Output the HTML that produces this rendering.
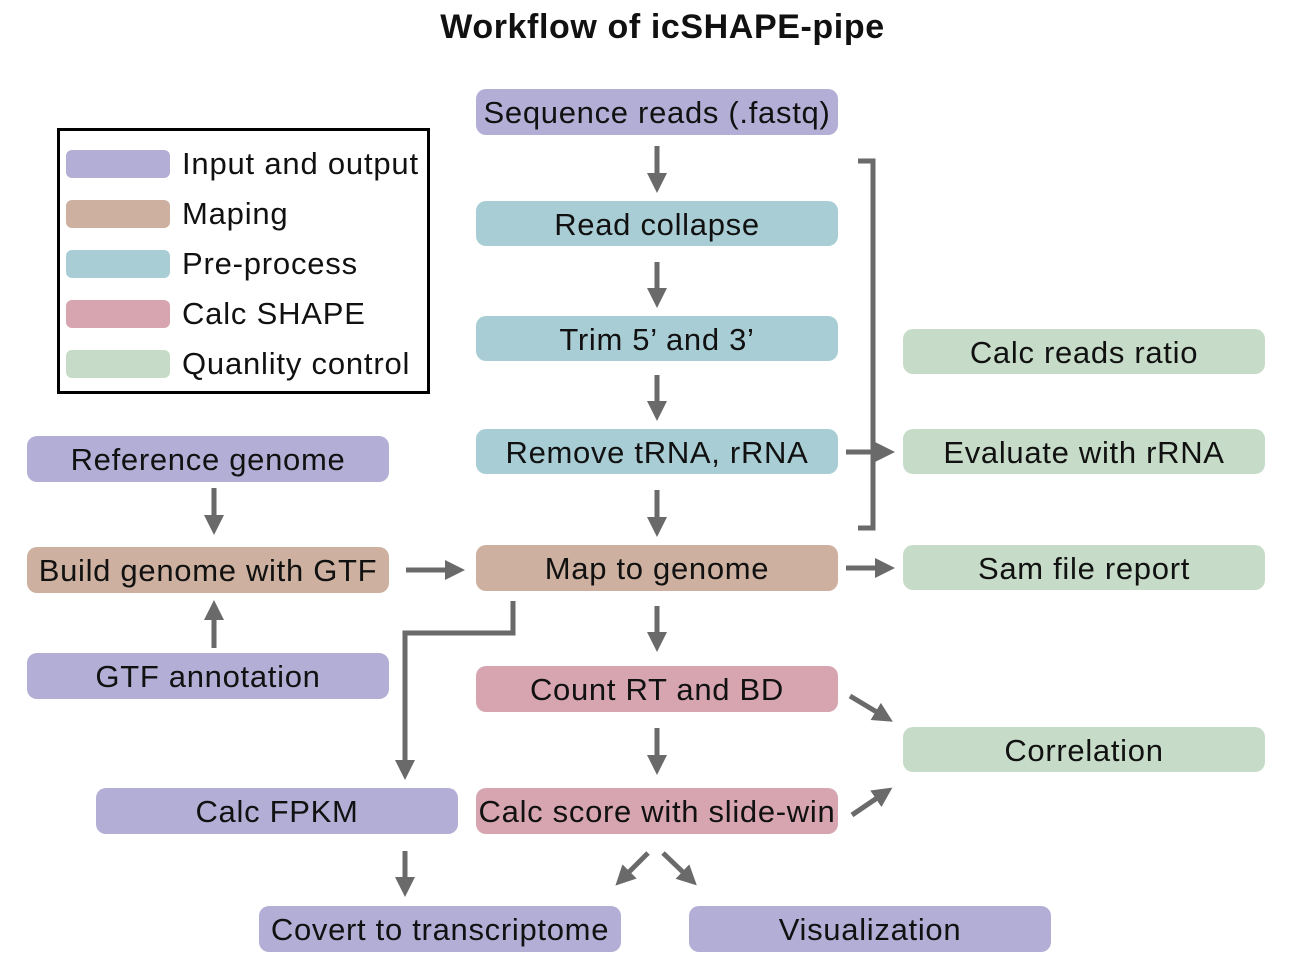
<!DOCTYPE html>
<html><head><meta charset="utf-8"><style>
body{margin:0;width:1313px;height:966px;background:#fff;position:relative;font-family:"Liberation Sans",Arial,sans-serif;overflow:hidden}
.b{position:absolute;border-radius:10px;display:flex;align-items:center;justify-content:center;font-size:31px;letter-spacing:0.7px;color:#111;white-space:nowrap;padding-top:2px;box-sizing:border-box}
.p{background:#b3aed6}.t{background:#cdb09f}.c{background:#a8cdd5}.k{background:#d6a5b0}.g{background:#c6dcc8}
.sw{position:absolute;left:66px;width:104px;height:28px;border-radius:6px}
.lt{position:absolute;left:182px;font-size:31px;letter-spacing:0.8px;color:#111;line-height:30px}
</style></head><body>
<div style="position:absolute;left:0;width:1325px;top:8px;text-align:center;font-weight:bold;font-size:34px;letter-spacing:0.6px;color:#111">Workflow of icSHAPE-pipe</div>
<div style="position:absolute;left:57px;top:128px;width:367px;height:260px;border:3px solid #000"></div>
<div class="sw p" style="top:150px"></div><div class="lt" style="top:149px">Input and output</div>
<div class="sw t" style="top:200px"></div><div class="lt" style="top:199px">Maping</div>
<div class="sw c" style="top:250px"></div><div class="lt" style="top:249px">Pre-process</div>
<div class="sw k" style="top:300px"></div><div class="lt" style="top:299px">Calc SHAPE</div>
<div class="sw g" style="top:350px"></div><div class="lt" style="top:349px">Quanlity control</div>

<div class="b p" style="left:476px;top:89px;width:362px;height:46px">Sequence reads (.fastq)</div>
<div class="b c" style="left:476px;top:201px;width:362px;height:45px">Read collapse</div>
<div class="b c" style="left:476px;top:316px;width:362px;height:45px">Trim 5’ and 3’</div>
<div class="b c" style="left:476px;top:429px;width:362px;height:45px">Remove tRNA, rRNA</div>
<div class="b t" style="left:476px;top:545px;width:362px;height:46px">Map to genome</div>
<div class="b k" style="left:476px;top:666px;width:362px;height:46px">Count RT and BD</div>
<div class="b k" style="left:476px;top:788px;width:362px;height:46px">Calc score with slide-win</div>
<div class="b p" style="left:27px;top:436px;width:362px;height:46px">Reference genome</div>
<div class="b t" style="left:27px;top:547px;width:362px;height:46px">Build genome with GTF</div>
<div class="b p" style="left:27px;top:653px;width:362px;height:46px">GTF annotation</div>
<div class="b p" style="left:96px;top:788px;width:362px;height:46px">Calc FPKM</div>
<div class="b p" style="left:259px;top:906px;width:362px;height:46px">Covert to transcriptome</div>
<div class="b p" style="left:689px;top:906px;width:362px;height:46px">Visualization</div>
<div class="b g" style="left:903px;top:329px;width:362px;height:45px">Calc reads ratio</div>
<div class="b g" style="left:903px;top:429px;width:362px;height:45px">Evaluate with rRNA</div>
<div class="b g" style="left:903px;top:545px;width:362px;height:45px">Sam file report</div>
<div class="b g" style="left:903px;top:727px;width:362px;height:45px">Correlation</div>

<svg width="1313" height="966" style="position:absolute;left:0;top:0">
<defs><marker id="a" markerWidth="4" markerHeight="4" refX="1" refY="2" orient="auto" markerUnits="strokeWidth"><path d="M0,0L4,2L0,4z" fill="#6a6a6a"/></marker></defs>
<g stroke="#6a6a6a" stroke-width="5" fill="none">
<g marker-end="url(#a)">
<path d="M657 146V178"/><path d="M657 262V293"/><path d="M657 375V406"/><path d="M657 490V522"/><path d="M657 606V637"/><path d="M657 728V760"/>
<path d="M214 488V520"/><path d="M214 648V615"/><path d="M406 570H450"/>
<path d="M846 452H880"/><path d="M846 568H880"/>
<path d="M850 696L880 714"/><path d="M852 815L880 796"/>
<path d="M513 601V633H405V765"/><path d="M405 851V882"/>
<path d="M648 853L626 875"/><path d="M663 853L686 875"/>
</g>
<path d="M858 161H873V528H858"/>
</g></svg>
</body></html>
